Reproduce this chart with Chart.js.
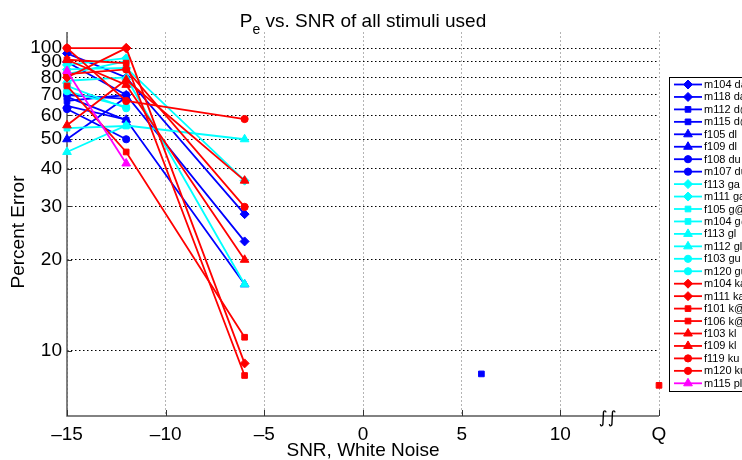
<!DOCTYPE html>
<html>
<head>
<meta charset="utf-8">
<script src="https://cdn.jsdelivr.net/npm/chart.js@4/dist/chart.umd.min.js"></script>
<style>
html,body{margin:0;padding:0;background:#fff;}
#wrap{width:742px;height:460px;position:relative;}
</style>
</head>
<body>
<div id="wrap"><canvas id="c" width="742" height="460"></canvas></div>
<script>
// ---- data ----
const snrPoints = [-15, -12, -6, 6, 15];          // 15 is the "Q" (quiet) column
const xTickValues = [-15, -10, -5, 0, 5, 10, 15];
const xTickLabels = ['\u201315', '\u201310', '\u20135', '0', '5', '10', 'Q'];
const yTickValues = [10, 20, 30, 40, 50, 60, 70, 80, 90, 100];
const breakAt = 12.4;

const seriesNames = [
  'm104 da','m118 da','m112 d@','m115 d@','f105 dl','f109 dl','f108 du','m107 du',
  'f113 ga','m111 ga','f105 g@','m104 g@','f113 gl','m112 gl','f103 gu','m120 gu',
  'm104 ka','m111 ka','f101 k@','f106 k@','f103 kl','f109 kl','f119 ku','m120 ku',
  'm115 pl'
];
const seriesColors = [
  'blue','blue','blue','blue','blue','blue','blue','blue',
  'cyan','cyan','cyan','cyan','cyan','cyan','cyan','cyan',
  'red','red','red','red','red','red','red','red',
  'magenta'
];
const seriesMarkers = [
  'diamond','diamond','square','square','triangle','triangle','circle','circle',
  'diamond','diamond','square','square','triangle','triangle','circle','circle',
  'diamond','diamond','square','square','triangle','triangle','circle','circle',
  'triangle'
];
// Percent error at SNR -15, -12, -6, 6, Q
const m104da = [96, 80, 28.3, null, null];
const m118da = [90, 70, 23, null, null];
const m112dat = [69, 57.8, null, 8.4, null];
const m115dat = [66.9, 70, null, null, null];
const f105dl = [50, 68.8, null, null, null];
const f109dl = [64.5, 58, 16.6, null, null];
const f108du = [62.9, 50, null, null, null];
const m107du = [70, 68, null, null, null];
const f113ga = [88, 92.6, null, null, null];
const m111ga = [85, 86, 36.5, null, null];
const f105gat = [82, 90.6, null, null, null];
const m104gat = [54.4, 55.3, null, null, null];
const f113gl = [45.4, 55.5, 50, null, null];
const m112gl = [78, 80, 16.6, null, null];
const f103gu = [72, 63.9, null, null, null];
const m120gu = [75, 63.3, null, null, null];
const m104ka = [80, 100, 9.1, null, null];
const m111ka = [100, 100, null, null, null];
const f101kat = [75, 45.4, 11.1, null, null];
const f106kat = [91.5, 89.2, 8.3, null, 7.7];
const f103kl = [55.6, 78.6, 36.5, null, null];
const f109kl = [91.5, 75.6, 20, null, null];
const f119ku = [100, 66.9, 58.3, null, null];
const m120ku = [82, 85, 29.9, null, null];
const m115pl = [84, 41.6, null, null, null];

const seriesValues = [
  m104da, m118da, m112dat, m115dat, f105dl, f109dl, f108du, m107du,
  f113ga, m111ga, f105gat, m104gat, f113gl, m112gl, f103gu, m120gu,
  m104ka, m111ka, f101kat, f106kat, f103kl, f109kl, f119ku, m120ku,
  m115pl
];

// ---- styles ----
const colorMap = {blue:'#0000ff', cyan:'#00ffff', red:'#ff0000', magenta:'#ff00ff'};
const markerMap = {
  diamond:{style:'rectRot', r:4.5},
  square:{style:'rect', r:4},
  triangle:{style:'triangle', r:5},
  circle:{style:'circle', r:3.6}
};
const FONT = "'Liberation Sans', Arial, Helvetica, sans-serif";

Chart.defaults.color = '#000';
Chart.defaults.font.family = FONT;

const datasets = seriesNames.map((name, i) => {
  const col = colorMap[seriesColors[i]];
  const mk = markerMap[seriesMarkers[i]];
  return {
    label: name,
    data: snrPoints.map((x, j) => ({x: x, y: seriesValues[i][j]})),
    borderColor: col,
    backgroundColor: col,
    borderWidth: 1.8,
    pointStyle: mk.style,
    pointRadius: mk.r,
    pointHoverRadius: mk.r,
    pointBorderWidth: 1,
    pointBackgroundColor: col,
    pointBorderColor: col,
    spanGaps: false,
    clip: false,
    tension: 0,
    order: 100 - i
  };
});

const decor = {
  id: 'decor',
  beforeDatasetsDraw(chart) {
    const {ctx, chartArea: a} = chart;
    const xs = chart.scales.x, ys = chart.scales.y;
    ctx.save();
    ctx.strokeStyle = '#5a5a5a';
    ctx.lineWidth = 1.5;
    ctx.beginPath();
    ctx.moveTo(a.left, a.top); ctx.lineTo(a.left, a.bottom);
    ctx.lineTo(a.right, a.bottom);
    ctx.stroke();
    ctx.lineWidth = 1;
    ctx.strokeStyle = '#333';
    ctx.beginPath();
    xTickValues.forEach(v => {
      const px = Math.round(xs.getPixelForValue(v)) + 0.5;
      ctx.moveTo(px, a.bottom); ctx.lineTo(px, a.bottom - 6);
    });
    yTickValues.forEach(v => {
      const py = Math.round(ys.getPixelForValue(v)) + 0.5;
      ctx.moveTo(a.left, py); ctx.lineTo(a.left + 5, py);
    });
    ctx.stroke();
    ctx.restore();
  },
  afterDraw(chart) {
    const {ctx, chartArea: a} = chart;
    const xs = chart.scales.x;
    ctx.save();
    // break symbol
    ctx.fillStyle = '#000';
    ctx.font = "17px 'DejaVu Sans', sans-serif";
    ctx.textAlign = 'center';
    ctx.textBaseline = 'middle';
    ctx.fillText('\u222B\u222B', xs.getPixelForValue(breakAt), a.bottom + 3);

    // title with subscript
    const cx = (a.left + a.right) / 2;
    ctx.textBaseline = 'alphabetic';
    ctx.textAlign = 'left';
    const big = '19px ' + FONT, small = '14px ' + FONT;
    ctx.font = big; const wP = ctx.measureText('P').width;
    const rest = ' vs. SNR of all stimuli used';
    const wR = ctx.measureText(rest).width;
    ctx.font = small; const wE = ctx.measureText('e').width;
    let x0 = cx - (wP + wE + wR) / 2;
    const base = 27;
    ctx.font = big; ctx.fillText('P', x0, base);
    ctx.font = small; ctx.fillText('e', x0 + wP, base + 7);
    ctx.font = big; ctx.fillText(rest, x0 + wP + wE, base);

    // axis titles
    ctx.font = '19px ' + FONT;
    ctx.textAlign = 'center';
    ctx.textBaseline = 'middle';
    ctx.fillText('SNR, White Noise', cx, 451);
    ctx.save();
    ctx.translate(19, (a.top + a.bottom) / 2 + 8);
    ctx.rotate(-Math.PI / 2);
    ctx.fillText('Percent Error', 0, 0);
    ctx.restore();

    // legend
    const lx = 669.5, ly = 77.5, lw = 80, lh = 314;
    ctx.fillStyle = '#fff';
    ctx.fillRect(lx, ly, lw, lh);
    ctx.strokeStyle = '#000';
    ctx.lineWidth = 1;
    ctx.strokeRect(lx, ly, lw, lh);
    ctx.font = '11px ' + FONT;
    ctx.textAlign = 'left';
    ctx.textBaseline = 'middle';
    chart.data.datasets.forEach((ds, i) => {
      const y = 84.5 + i * 12.45;
      ctx.strokeStyle = ds.borderColor;
      ctx.fillStyle = ds.borderColor;
      ctx.lineWidth = 1.8;
      ctx.beginPath(); ctx.moveTo(674, y); ctx.lineTo(702, y); ctx.stroke();
      ctx.lineWidth = 1;
      Chart.helpers.drawPoint(ctx, {pointStyle: ds.pointStyle, radius: ds.pointRadius, rotation: 0, borderWidth: 1}, 688, y);
      ctx.fillStyle = '#000';
      ctx.fillText(ds.label, 704, y + 0.5);
    });
    ctx.restore();
  }
};

new Chart(document.getElementById('c'), {
  type: 'line',
  data: {datasets},
  plugins: [decor],
  options: {
    responsive: false,
    animation: false,
    devicePixelRatio: 1,
    layout: {padding: {top: 32, right: 83, left: 0, bottom: 0}},
    plugins: {legend: {display: false}, title: {display: false}, tooltip: {enabled: false}},
    scales: {
      x: {
        type: 'linear', min: -15, max: 15,
        afterBuildTicks: s => { s.ticks = xTickValues.map(v => ({value: v})); },
        afterFit: s => { s.height = 44; },
        ticks: {
          autoSkip: false, maxRotation: 0, padding: 7,
          font: {size: 19, family: FONT}, color: '#000',
          callback: (v) => { const k = xTickValues.indexOf(v); return k >= 0 ? xTickLabels[k] : ''; }
        },
        grid: {color: '#b4b4b4', lineWidth: 1, drawTicks: false},
        border: {display: false, dash: [2, 2]}
      },
      y: {
        type: 'logarithmic', min: 6.1, max: 113,
        afterBuildTicks: s => { s.ticks = yTickValues.map(v => ({value: v})); },
        afterFit: s => { s.width = 67; },
        ticks: {
          autoSkip: false, padding: 5,
          font: {size: 19, family: FONT}, color: '#000',
          callback: (v) => String(v)
        },
        grid: {color: '#000', lineWidth: 1, drawTicks: false},
        border: {display: false, dash: [1.5, 2.5]}
      }
    }
  }
});
</script>
</body>
</html>
